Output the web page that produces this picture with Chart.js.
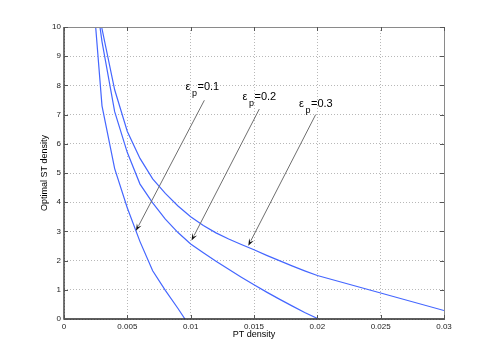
<!DOCTYPE html>
<html>
<head>
<meta charset="utf-8">
<script src="https://cdn.jsdelivr.net/npm/chart.js@4.4.1/dist/chart.umd.min.js"></script>
<style>
  html, body { margin: 0; padding: 0; background: #ffffff; }
  #wrap { position: relative; width: 491px; height: 359px; }
</style>
</head>
<body>
<div id="wrap"><canvas id="c" width="491" height="359"></canvas></div>
<script>
// ---- Data ----
const eps01PT = [0.0025, 0.003, 0.004, 0.005, 0.006, 0.007, 0.008, 0.009, 0.00955];
const eps01ST = [10, 7.3, 5.15, 3.8, 2.65, 1.65, 0.98, 0.36, 0];

const eps02PT = [0.00284, 0.003, 0.004, 0.005, 0.006, 0.007, 0.008, 0.009, 0.010, 0.011, 0.012, 0.013, 0.014, 0.015, 0.016, 0.017, 0.018, 0.019, 0.0201];
const eps02ST = [10, 9.5, 7.1, 5.7, 4.62, 3.98, 3.42, 2.96, 2.57, 2.27, 1.98, 1.70, 1.43, 1.17, 0.92, 0.68, 0.45, 0.22, 0];

const eps03PT = [0.00297, 0.004, 0.005, 0.006, 0.007, 0.008, 0.009, 0.010, 0.011, 0.012, 0.013, 0.014, 0.015, 0.016, 0.017, 0.018, 0.019, 0.020, 0.025, 0.030];
const eps03ST = [10, 7.85, 6.42, 5.5, 4.8, 4.3, 3.87, 3.5, 3.2, 2.95, 2.74, 2.55, 2.37, 2.18, 2.0, 1.82, 1.65, 1.49, 0.89, 0.29];

const seriesNames = ['\u03b5p=0.1', '\u03b5p=0.2', '\u03b5p=0.3'];
const xTickValues = [0, 0.005, 0.01, 0.015, 0.02, 0.025, 0.03];
const xTickLabels = ['0', '0.005', '0.01', '0.015', '0.02', '0.025', '0.03'];
const yTickValues = [0, 1, 2, 3, 4, 5, 6, 7, 8, 9, 10];
const yTickLabels = ['0', '1', '2', '3', '4', '5', '6', '7', '8', '9', '10'];
const xTitle = 'PT density';
const yTitle = 'Optimal ST density';

// annotation labels and arrow ends in data units
const labelValues = ['=0.1', '=0.2', '=0.3'];
const labelPT = [0.00959, 0.01409, 0.01855];
const labelST = [7.83, 7.49, 7.26];
const arrowFromPT = [0.01108, 0.01542, 0.01987];
const arrowFromST = [7.49, 7.19, 7.0];
const arrowToPT = [0.00568, 0.01007, 0.01455];
const arrowToST = [3.02, 2.69, 2.51];

// ---- Build ----
const FONT = '"Liberation Sans", Arial, Helvetica, sans-serif';
const LINE = '#4466ff';

function pts(xs, ys) { return xs.map((x, i) => ({ x: x, y: ys[i] })); }

const framePlugin = {
  id: 'frame',
  afterDatasetsDraw(chart) {
    const { ctx, chartArea: a, scales: { x, y } } = chart;
    ctx.save();
    // frame
    ctx.lineWidth = 1;
    ctx.strokeStyle = '#8a8a8a';
    ctx.beginPath();
    ctx.moveTo(a.left, a.top + 0.5); ctx.lineTo(a.right + 0.5, a.top + 0.5);
    ctx.lineTo(a.right + 0.5, a.bottom);
    ctx.stroke();
    ctx.strokeStyle = '#2a2a2a';
    ctx.lineWidth = 1.3;
    ctx.beginPath();
    ctx.moveTo(a.left, a.top); ctx.lineTo(a.left, a.bottom); ctx.lineTo(a.right + 1, a.bottom);
    ctx.stroke();
    // inward ticks
    ctx.lineWidth = 1;
    ctx.strokeStyle = '#555';
    const tl = 4;
    ctx.beginPath();
    xTickValues.forEach(v => {
      const px = Math.round(x.getPixelForValue(v)) + 0.5;
      ctx.moveTo(px, a.bottom); ctx.lineTo(px, a.bottom - tl);
      ctx.moveTo(px, a.top); ctx.lineTo(px, a.top + tl);
    });
    yTickValues.forEach(v => {
      const py = Math.round(y.getPixelForValue(v)) + 0.5;
      ctx.moveTo(a.left, py); ctx.lineTo(a.left + tl, py);
      ctx.moveTo(a.right, py); ctx.lineTo(a.right - tl, py);
    });
    ctx.stroke();

    // arrows
    for (let i = 0; i < arrowFromPT.length; i++) {
      const x1 = x.getPixelForValue(arrowFromPT[i]), y1 = y.getPixelForValue(arrowFromST[i]);
      const x2 = x.getPixelForValue(arrowToPT[i]), y2 = y.getPixelForValue(arrowToST[i]);
      const ang = Math.atan2(y2 - y1, x2 - x1);
      const hl = 7, hw = 2.6;
      ctx.strokeStyle = '#6e6e6e';
      ctx.lineWidth = 1;
      ctx.beginPath();
      ctx.moveTo(x1, y1);
      ctx.lineTo(x2 - Math.cos(ang) * hl * 0.8, y2 - Math.sin(ang) * hl * 0.8);
      ctx.stroke();
      ctx.fillStyle = '#111';
      ctx.beginPath();
      ctx.moveTo(x2, y2);
      ctx.lineTo(x2 - Math.cos(ang) * hl - Math.sin(ang) * hw, y2 - Math.sin(ang) * hl + Math.cos(ang) * hw);
      ctx.lineTo(x2 - Math.cos(ang) * hl * 0.6, y2 - Math.sin(ang) * hl * 0.6);
      ctx.lineTo(x2 - Math.cos(ang) * hl + Math.sin(ang) * hw, y2 - Math.sin(ang) * hl - Math.cos(ang) * hw);
      ctx.closePath();
      ctx.fill();
    }

    // labels
    ctx.fillStyle = '#000';
    ctx.textBaseline = 'alphabetic';
    ctx.textAlign = 'left';
    for (let i = 0; i < labelPT.length; i++) {
      const lx = x.getPixelForValue(labelPT[i]), ly = y.getPixelForValue(labelST[i]);
      ctx.font = '11px ' + FONT;
      ctx.fillText('\u03b5', lx, ly);
      ctx.font = '9px ' + FONT;
      ctx.fillText('p', lx + 6.5, ly + 5.5);
      ctx.font = '11px ' + FONT;
      ctx.fillText(labelValues[i], lx + 12, ly);
    }

    // axis titles
    ctx.font = '9px ' + FONT;
    ctx.textAlign = 'center';
    ctx.textBaseline = 'middle';
    ctx.fillText(xTitle, (a.left + a.right) / 2, 335);
    ctx.save();
    ctx.translate(45, (a.top + a.bottom) / 2);
    ctx.rotate(-Math.PI / 2);
    ctx.fillText(yTitle, 0, 0);
    ctx.restore();
    ctx.restore();
  }
};

const mk = (xs, ys, name) => ({
  label: name,
  data: pts(xs, ys),
  showLine: true,
  borderColor: LINE,
  backgroundColor: LINE,
  borderWidth: 1.2,
  pointRadius: 0,
  tension: 0,
  fill: false
});

new Chart(document.getElementById('c'), {
  type: 'scatter',
  data: {
    datasets: [
      mk(eps01PT, eps01ST, seriesNames[0]),
      mk(eps02PT, eps02ST, seriesNames[1]),
      mk(eps03PT, eps03ST, seriesNames[2])
    ]
  },
  options: {
    responsive: false,
    animation: false,
    devicePixelRatio: 1,
    layout: { padding: { left: 0, right: 47, top: 27, bottom: 0 } },
    plugins: { legend: { display: false }, tooltip: { enabled: false } },
    scales: {
      x: {
        type: 'linear',
        min: 0, max: 0.03,
        afterFit(s) { s.height = 40; },
        afterBuildTicks(s) { s.ticks = xTickValues.map(v => ({ value: v })); },
        ticks: {
          autoSkip: false,
          maxRotation: 0,
          padding: 3,
          color: '#222',
          font: { family: FONT, size: 8 },
          callback: (v) => { const i = xTickValues.indexOf(v); return i >= 0 ? xTickLabels[i] : ''; }
        },
        grid: { color: '#b8b8b8', lineWidth: 1, drawTicks: false },
        border: { display: false, dash: [1, 2] }
      },
      y: {
        type: 'linear',
        min: 0, max: 10,
        afterFit(s) { s.width = 64; },
        afterBuildTicks(s) { s.ticks = yTickValues.map(v => ({ value: v })); },
        ticks: {
          autoSkip: false,
          padding: 3,
          color: '#222',
          font: { family: FONT, size: 8 },
          callback: (v) => { const i = yTickValues.indexOf(v); return i >= 0 ? yTickLabels[i] : ''; }
        },
        grid: { color: '#b8b8b8', lineWidth: 1, drawTicks: false },
        border: { display: false, dash: [1, 2] }
      }
    }
  },
  plugins: [framePlugin]
});
</script>
</body>
</html>
